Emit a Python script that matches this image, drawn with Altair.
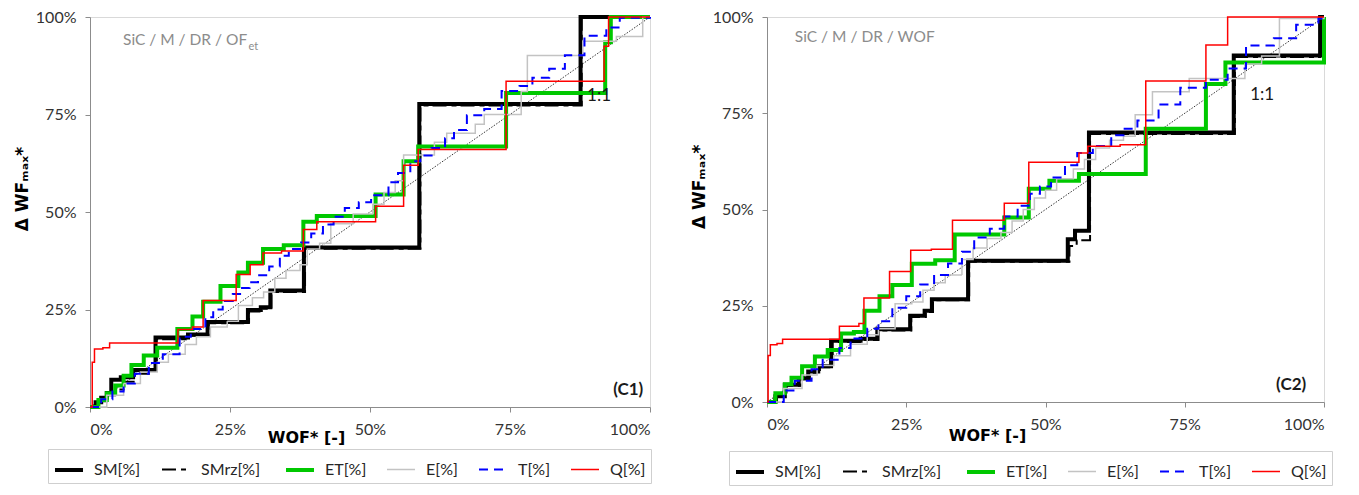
import altair as alt
import pandas as pd

SERIES = ["SM[%]", "SMrz[%]", "ET[%]", "E[%]", "T[%]", "Q[%]"]
COLORS = ["#000000", "#000000", "#00c800", "#c3c3c3", "#0000ff", "#ff0000"]
WIDTHS = [4.0, 2.0, 4.0, 1.5, 2.0, 1.5]
DASHES = [[1, 0], [14, 5, 5, 4], [1, 0], [1, 0], [9, 6], [1, 0]]
TICKS = [0, 25, 50, 75, 100]
DIAG_X = [0, 100]
DIAG_Y = [0, 100]

# ---------------- Panel C1 (step-after breakpoints, % units) ----------------
C1_SM_X = [0, 1, 2, 3, 3.8, 5.5, 7.7, 11.7, 17.5, 21.0, 28.2, 30.5, 32.2, 38.2, 58.8, 87.6, 100]
C1_SM_Y = [0, 1.2, 2.4, 3.6, 7.0, 7.6, 9.5, 17.8, 18.6, 21.8, 24.9, 25.6, 29.9, 40.9, 77.7, 100, 100]
C1_SMRZ_X = [0, 1.5, 3, 4.5, 6, 8, 10.5, 11.9, 17.5, 21.2, 28.4, 30.6, 32.4, 38.4, 59.0, 87.8, 100]
C1_SMRZ_Y = [0, 1.5, 3.0, 4.5, 6.5, 8.5, 9.2, 17.4, 18.3, 21.5, 24.5, 25.2, 29.5, 40.6, 77.3, 100, 100]
C1_ET_X = [0, 1.5, 3, 4.5, 6, 7.4, 9.6, 12, 15.6, 18.3, 20.2, 23.3, 26.5, 28.2, 30.9, 34.6, 38.1, 40.5, 51, 56, 58.6, 74.3, 92, 93, 100]
C1_ET_Y = [0, 1.8, 3.5, 5.5, 8, 10.8, 13.2, 15.2, 20.0, 23.2, 27.0, 31.0, 34.5, 37.0, 40.5, 41.5, 47.5, 49.0, 54.5, 63.0, 66.8, 80.5, 93.5, 100, 100]
C1_E_X = [0, 3, 6, 9, 12, 14, 17, 19, 21.5, 24.5, 26.5, 29, 31, 33, 35, 37.5, 38.8, 41, 43, 47,
          50.5, 52.5, 54.5, 56, 61.5, 63.7, 68.8, 70.4, 77, 78.1, 88, 94, 98.7, 100]
C1_E_Y = [0, 3, 6, 9, 11.5, 13.5, 16, 18, 20.5, 22, 26, 28, 29.5, 33, 35, 36.5, 40.5, 42, 47, 49.5,
          52, 55, 58, 64.6, 67.9, 70.2, 72.5, 75, 80.9, 90.1, 93.8, 95, 100, 100]
C1_T_X = [0, 2, 4, 6, 8, 10.5, 13, 16, 18, 20.6, 22, 23.7, 25.5, 26.8, 28.5, 30, 32, 33.9, 35.5, 37.7,
          39.5, 41.6, 43.5, 45.5, 48, 50.2, 53.3, 55, 57.2, 59, 61, 63.4, 65, 67.3, 70.4, 73.5, 76.7, 79,
          82, 84.8, 88.3, 92.2, 94.6, 100]
C1_T_Y = [0, 2, 4, 6, 8.5, 11.3, 13.5, 18, 20, 23, 25, 27.2, 29, 30.5, 32, 33.8, 36, 38.8, 40.5, 42.2,
          44.5, 46.8, 48.8, 51, 52.5, 54.3, 57.6, 60, 63, 64.5, 66.4, 68.9, 71, 74.8, 76.4, 81, 82.3, 84.4,
          86.7, 90.2, 95.2, 97.3, 99.8, 100]
C1_Q_X = [0, 0.4, 0.8, 2.3, 3.5, 15.7, 18.3, 20.2, 26.1, 28.6, 30.9, 34.2, 38.1, 40.5, 51, 56, 58.6, 74.3, 91.8, 92.6, 100]
C1_Q_Y = [0, 11.5, 14.9, 15.2, 16.4, 19.9, 20.5, 27.3, 34, 36.5, 39.5, 40, 45.5, 47.5, 51.5, 62, 66, 83.5, 92.5, 100, 100]

# ---------------- Panel C2 ----------------
C2_SM_X = [0, 1.5, 3.2, 5.7, 7.4, 9.2, 11.5, 16.8, 19.8, 25.7, 28.3, 29.6, 36.1, 54.0, 55.3, 57.8, 83.8, 99.3, 100]
C2_SM_Y = [0, 1.5, 4.5, 6.2, 7.9, 9.3, 15.9, 16.4, 18.9, 22.4, 23.7, 26.7, 36.7, 42.3, 44.5, 70.0, 90.0, 100, 100]
C2_SMRZ_X = [0, 1.8, 3.5, 6.0, 7.7, 9.5, 11.8, 17.0, 20.0, 25.9, 28.5, 29.8, 36.3, 54.3, 55.6, 58.0, 84.0, 99.3, 100]
C2_SMRZ_Y = [0, 1.6, 4.2, 5.9, 7.6, 9.0, 15.6, 16.1, 18.6, 22.1, 23.4, 26.4, 36.4, 40.5, 42.0, 69.6, 89.6, 100, 100]
C2_ET_X = [0, 1.5, 3.2, 4.4, 6.3, 8.6, 10.9, 13.3, 15.6, 17.5, 20.2, 22.5, 26, 30.2, 33.7, 42.6, 47, 50.7, 56, 68, 78.8, 82.3, 100]
C2_ET_Y = [0, 2.3, 4.6, 6.3, 9.3, 11.8, 13.5, 17.8, 18.2, 23.7, 27.5, 30.4, 35.9, 36.8, 43.5, 47.9, 55.4, 57.5, 59.2, 71, 82.6, 88.2, 100]
C2_E_X = [0, 3, 6.3, 9, 12, 15, 18, 20, 23, 26, 28, 30, 32, 35, 37, 39.5, 42, 44, 46, 48,
          50, 52, 55, 57, 59, 61.5, 64, 66.1, 69.2, 75.8, 85.8, 88.8, 92, 100]
C2_E_Y = [0, 3.5, 7, 9.5, 12, 15, 17.5, 19, 25.5, 26, 29, 31, 33, 37, 40, 42.5, 44, 47, 50, 53,
          55, 58, 60.5, 63, 66, 68, 69, 74.6, 80.6, 84, 87.8, 89.9, 99.6, 100]
C2_T_X = [0, 3, 5, 8, 10, 13, 15, 18, 20, 22.5, 25, 27.5, 30, 32.5, 35, 37.2, 40, 42.6, 45, 47.2,
          49, 51, 53.5, 55.7, 58.5, 61.8, 64, 66.5, 70.3, 74.2, 78.8, 82.7, 86, 91, 95, 99, 100]
C2_T_Y = [0, 3, 5.5, 8.5, 11, 14, 16.5, 19, 21, 24.5, 27.5, 30.5, 33, 36, 39, 42.7, 45, 48.2, 51, 54.1,
          56, 58.3, 61.5, 64.7, 66.5, 69.3, 71, 73.1, 77.3, 81.6, 83.7, 86.6, 92.6, 94.5, 98, 99.6, 100]
C2_Q_X = [0, 0.2, 0.6, 1.8, 2.8, 13, 16.5, 17.4, 22, 25.8, 29.5, 33.3, 42.6, 47, 56, 57.6, 63.4, 68, 78.8, 82.7, 100]
C2_Q_Y = [0, 12.1, 14.9, 15.2, 16.3, 19.7, 20.4, 27, 33.9, 39.4, 39.7, 47.2, 51.6, 62.3, 64.7, 66.4, 66.8, 83.4, 92.7, 100, 100]

C1 = {"SM[%]": (C1_SM_X, C1_SM_Y), "SMrz[%]": (C1_SMRZ_X, C1_SMRZ_Y), "ET[%]": (C1_ET_X, C1_ET_Y),
      "E[%]": (C1_E_X, C1_E_Y), "T[%]": (C1_T_X, C1_T_Y), "Q[%]": (C1_Q_X, C1_Q_Y)}
C2 = {"SM[%]": (C2_SM_X, C2_SM_Y), "SMrz[%]": (C2_SMRZ_X, C2_SMRZ_Y), "ET[%]": (C2_ET_X, C2_ET_Y),
      "E[%]": (C2_E_X, C2_E_Y), "T[%]": (C2_T_X, C2_T_Y), "Q[%]": (C2_Q_X, C2_Q_Y)}

# annotations: (x %, y %, text)
C1_SUB = [(5.9, 94.2, "SiC / M / DR / OF")]
C1_SUBSCRIPT = [(28.3, 92.3, "et")]
C1_ONE = [(90.9, 79.8, "1:1")]
C1_TAG = [(98.8, 4.3, "(C1)")]
C2_SUB = [(5.0, 94.7, "SiC / M / DR / WOF")]
C2_SUBSCRIPT = []
C2_ONE = [(88.9, 79.7, "1:1")]
C2_TAG = [(96.8, 4.3, "(C2)")]

LBL_FONT = "Lato"
TTL_FONT = "DejaVu Sans"


def ann_df(items):
    return pd.DataFrame(items, columns=["x", "y", "t"])


def panel(data, sub, subscript, one, tag, w, h, leg_x, leg_y, title_x, title_y):
    rows = []
    for s in SERIES:
        xs, ys = data[s]
        assert len(xs) == len(ys), s
        for a, b in zip(xs, ys):
            rows.append({"series": s, "x": a, "y": b})
    df = pd.DataFrame(rows)

    leg = alt.Legend(orient="none", legendX=leg_x, legendY=leg_y, direction="horizontal",
                     columns=6, title=None, symbolType="stroke", symbolSize=784,
                     labelFont=LBL_FONT, labelFontSize=16, labelColor="#262626",
                     strokeColor="#cfcfcf", padding=5,
                     gridAlign="each", columnPadding=17, labelOffset=9)
    xs_ = alt.Scale(domain=[0, 100], nice=False)
    ys_ = alt.Scale(domain=[0, 100], nice=False)
    xaxis = alt.Axis(values=TICKS, labelExpr="datum.value + '%'", title="WOF* [-]", grid=False,
                     domainColor="#8c8c8c", tickColor="#8c8c8c", tickSize=5, labelPadding=9,
                     labelFont=LBL_FONT, labelFontSize=16, labelColor="#333333",
                     titleFont=TTL_FONT, titleFontSize=16, titleFontWeight="bold", titleColor="#000000",
                     titleX=title_x, titleY=title_y, titleBaseline="middle")
    yaxis = alt.Axis(values=TICKS, labelExpr="datum.value + '%'", title="Δ WFₘₐₓ*", grid=False,
                     domainColor="#8c8c8c", tickColor="#8c8c8c", tickSize=5, labelPadding=9,
                     labelFont=LBL_FONT, labelFontSize=16, labelColor="#333333",
                     titleFont=TTL_FONT, titleFontSize=17, titleFontWeight="bold", titleColor="#000000",
                     titlePadding=4, titleY=h * 0.44)

    diag = alt.Chart(pd.DataFrame({"x": DIAG_X, "y": DIAG_Y})).mark_line(
        color="#000000", strokeWidth=0.8, strokeDash=[1.5, 1.5]
    ).encode(x=alt.X("x:Q", scale=xs_, axis=xaxis), y=alt.Y("y:Q", scale=ys_, axis=yaxis))

    lines = alt.Chart(df).mark_line(interpolate="step-after").encode(
        x=alt.X("x:Q", scale=xs_, axis=xaxis),
        y=alt.Y("y:Q", scale=ys_, axis=yaxis),
        color=alt.Color("series:N", scale=alt.Scale(domain=SERIES, range=COLORS), legend=leg),
        strokeDash=alt.StrokeDash("series:N", scale=alt.Scale(domain=SERIES, range=DASHES), legend=leg),
        strokeWidth=alt.StrokeWidth("series:N", scale=alt.Scale(type="ordinal", domain=SERIES, range=WIDTHS), legend=leg),
    )

    layers = [diag, lines]
    layers.append(alt.Chart(ann_df(sub)).mark_text(align="left", baseline="middle", font=LBL_FONT,
                  fontSize=15.5, color="#8c8c8c").encode(x="x:Q", y="y:Q", text="t:N"))
    if subscript:
        layers.append(alt.Chart(ann_df(subscript)).mark_text(align="left", baseline="middle", font=LBL_FONT,
                      fontSize=11, color="#8c8c8c").encode(x="x:Q", y="y:Q", text="t:N"))
    layers.append(alt.Chart(ann_df(one)).mark_text(align="center", baseline="middle", font=LBL_FONT,
                  fontSize=17, color="#1a1a1a").encode(x="x:Q", y="y:Q", text="t:N"))
    layers.append(alt.Chart(ann_df(tag)).mark_text(align="right", baseline="middle", font=LBL_FONT,
                  fontSize=17, fontWeight="bold", color="#1a1a1a").encode(x="x:Q", y="y:Q", text="t:N"))
    return alt.layer(*layers).properties(width=w, height=h)


left = panel(C1, C1_SUB, C1_SUBSCRIPT, C1_ONE, C1_TAG, 560, 390, -42, 432, 216, 30)
right = panel(C2, C2_SUB, C2_SUBSCRIPT, C2_ONE, C2_TAG, 557, 385, -38, 434, 220, 33)

chart = alt.hconcat(left, right, spacing=30).resolve_scale(
    color="independent", strokeDash="independent", strokeWidth="independent"
).properties(
    padding={"left": 4, "top": 0, "right": 0, "bottom": 0}
).configure_view(stroke="#d9d9d9")

chart.save("out.html", embed_options={"renderer": "svg", "actions": False})
